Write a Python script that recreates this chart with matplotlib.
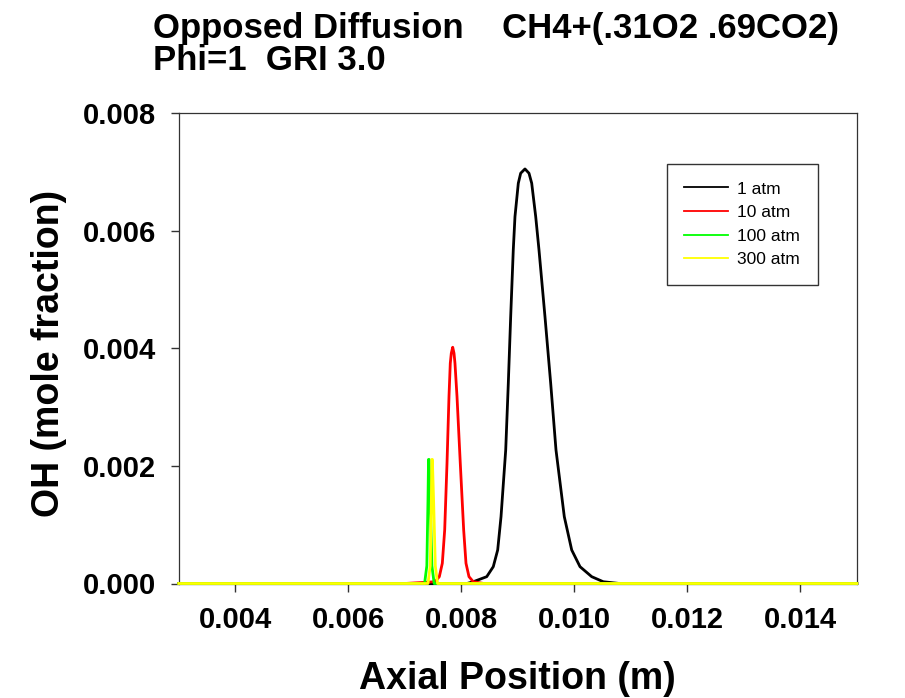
import matplotlib
matplotlib.use("Agg")
import matplotlib.pyplot as plt
from matplotlib.lines import Line2D

plt.rcParams['font.family'] = ['Liberation Sans', 'DejaVu Sans']

# OH mole fraction vs axial position
x_1atm = [0.0030, 0.0081, 0.008212, 0.008450, 0.008566, 0.008644, 0.008703, 0.008786,
          0.008832, 0.008874, 0.008920, 0.008950, 0.009009, 0.009051, 0.009127,
          0.009198, 0.009246, 0.009317, 0.009375, 0.009481, 0.009582, 0.009676,
          0.009823, 0.009954, 0.010101, 0.010308, 0.010513, 0.0108, 0.0150]
y_1atm = [0.0, 0.0, 0.00003, 0.000116, 0.000286, 0.000570, 0.001136, 0.002270,
          0.003405, 0.004537, 0.005672, 0.006238, 0.006806, 0.006976, 0.007049,
          0.006976, 0.006806, 0.006238, 0.005672, 0.004537, 0.003405, 0.002270,
          0.001136, 0.000570, 0.000286, 0.000116, 0.00003, 0.0, 0.0]

x_10atm = [0.0030, 0.0070, 0.007535, 0.007611, 0.007664, 0.007706, 0.007747, 0.007782,
           0.007805, 0.007823, 0.007848, 0.007871, 0.007888, 0.007924, 0.007982,
           0.008042, 0.008083, 0.008136, 0.008212, 0.0084, 0.0150]
y_10atm = [0.0, 0.0, 0.00003, 0.000116, 0.000344, 0.00091, 0.002044, 0.003177,
           0.003745, 0.003915, 0.004017, 0.003915, 0.003745, 0.003177, 0.002044,
           0.00091, 0.000344, 0.000116, 0.00003, 0.0, 0.0]

x_100atm = [0.0030, 0.00735, 0.00739, 0.00741, 0.007420, 0.007430, 0.00745, 0.00748, 0.00752, 0.0150]
y_100atm = [0.0, 0.0, 0.0003, 0.0014, 0.00211, 0.00211, 0.0014, 0.0003, 0.0, 0.0]

x_300atm = [0.0030, 0.00741, 0.00745, 0.00747, 0.007478, 0.007488, 0.00751, 0.00754, 0.00758, 0.0150]
y_300atm = [0.0, 0.0, 0.0003, 0.0014, 0.00211, 0.00211, 0.0014, 0.0003, 0.0, 0.0]

labels = ['1 atm', '10 atm', '100 atm', '300 atm']
colors = ['black', '#ff0000', '#00ff00', '#ffff00']

xticks = [0.004, 0.006, 0.008, 0.010, 0.012, 0.014]
yticks = [0.000, 0.002, 0.004, 0.006, 0.008]

fig = plt.figure(figsize=(9.05, 6.98), dpi=100)
W, H = 905, 698
ax = fig.add_axes([178.8 / W, 1 - 583.5 / H, 678 / W, 470.5 / H])

series = [(x_1atm, y_1atm), (x_10atm, y_10atm), (x_100atm, y_100atm), (x_300atm, y_300atm)]
for (xs, ys), c in zip(series, colors):
    ax.plot(xs, ys, color=c, lw=2.0, clip_on=False, zorder=3)

ax.set_xlim(0.003, 0.015)
ax.set_ylim(0.0, 0.008)
ax.set_xticks(xticks)
ax.set_xticklabels([f'{v:.3f}' for v in xticks])
ax.set_yticks(yticks)
ax.set_yticklabels([f'{v:.3f}' for v in yticks])
ax.tick_params(direction='out', length=5.5, width=1, color='#333333',
               labelsize=21, pad=11)
for lab in ax.get_xticklabels() + ax.get_yticklabels():
    lab.set_fontweight('bold')
for sp in ax.spines.values():
    sp.set_color('#333333')
    sp.set_linewidth(0.9)

handles = [Line2D([], [], color=c, lw=1.3) for c in colors]
leg = ax.legend(handles, labels, loc='upper left',
                bbox_to_anchor=(667 / W, 1 - 164 / H), bbox_transform=fig.transFigure,
                borderaxespad=0, fontsize=12.5, frameon=True, fancybox=False,
                handlelength=2.5, handletextpad=0.55, labelspacing=0.49, borderpad=1.0)
leg.get_frame().set_edgecolor('black')
leg.get_frame().set_linewidth(1.0)

fig.text(153 / W, 1 - 69.5 / H,
         'Opposed Diffusion    CH4+(.31O2 .69CO2)\nPhi=1  GRI 3.0',
         fontsize=25, fontweight='bold', ha='left', va='baseline', linespacing=0.94)

fig.text(517.8 / W, 1 - 689 / H, 'Axial Position (m)', fontsize=27,
         fontweight='bold', ha='center', va='baseline')
fig.text(49 / W, 1 - 353 / H, 'OH (mole fraction)', fontsize=27,
         fontweight='bold', ha='center', va='center', rotation=90)

fig.savefig('out.png', dpi=100)
